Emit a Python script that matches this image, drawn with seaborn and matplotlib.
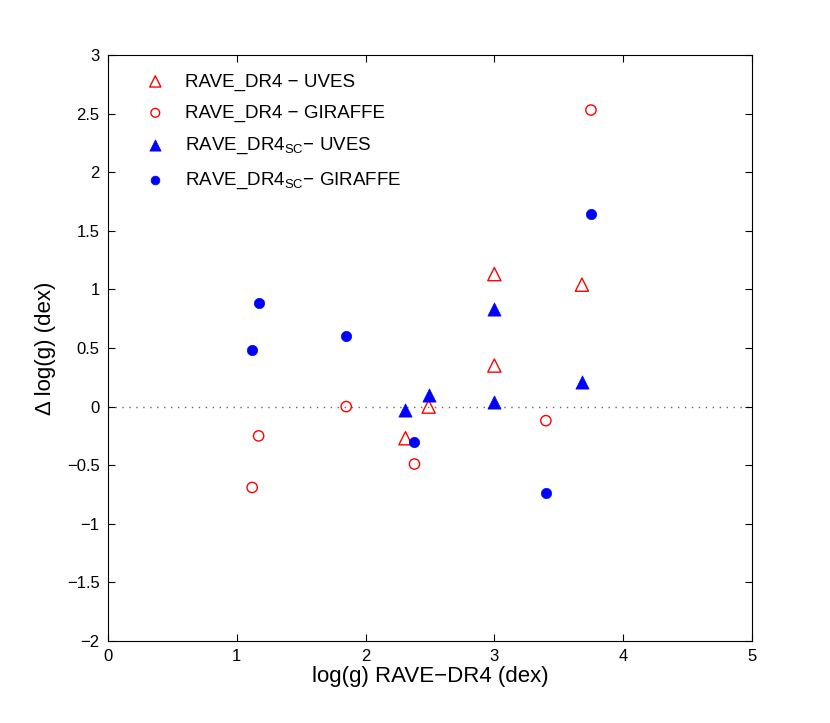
import matplotlib
matplotlib.use("Agg")
import matplotlib.pyplot as plt
import seaborn as sns

# ─── Data ─────────────────────────────────────────────────────────────────────
uves_x = [2.31, 2.49, 3.00, 3.00, 3.68]
uves_dr4 = [-0.27, 0.00, 1.13, 0.35, 1.04]
uves_sc = [-0.03, 0.10, 0.83, 0.04, 0.21]

giraffe_x = [1.12, 1.17, 1.85, 2.38, 3.40, 3.75]
giraffe_dr4 = [-0.69, -0.25, 0.00, -0.49, -0.12, 2.53]
giraffe_sc = [0.48, 0.88, 0.60, -0.30, -0.74, 1.64]

labels = [
    "RAVE_DR4 \u2212 UVES",
    "RAVE_DR4 \u2212 GIRAFFE",
    "RAVE_DR4$_{\\mathrm{SC}}$\u2212 UVES",
    "RAVE_DR4$_{\\mathrm{SC}}$\u2212 GIRAFFE",
]

sns.set_style("white")
plt.rcParams.update({
    "font.family": ["Liberation Sans", "DejaVu Sans"],
    "mathtext.fontset": "custom",
    "mathtext.rm": "Liberation Sans",
    "mathtext.it": "Liberation Sans",
    "font.size": 12,
    "text.color": "black",
    "axes.labelcolor": "black",
    "xtick.color": "black",
    "ytick.color": "black",
    "axes.edgecolor": "black",
    "axes.linewidth": 0.8,
    "xtick.direction": "in",
    "ytick.direction": "in",
    "xtick.top": True,
    "ytick.right": True,
    "xtick.bottom": True,
    "ytick.left": True,
    "xtick.major.size": 5,
    "ytick.major.size": 5,
})

fig = plt.figure(figsize=(8.3, 7.23), dpi=100)
ax = fig.add_axes([0.130, 0.1134, 0.776, 0.8106])

ax.axhline(0, color="#666666", ls=(0, (1, 4)), lw=1, zorder=0)

sns.scatterplot(x=uves_x, y=uves_dr4, marker="^", s=90, color="red",
                facecolor="none", edgecolor="red", linewidth=1.0,
                label=labels[0], ax=ax)
sns.scatterplot(x=giraffe_x, y=giraffe_dr4, marker="o", s=55, color="red",
                facecolor="none", edgecolor="red", linewidth=1.0,
                label=labels[1], ax=ax)
sns.scatterplot(x=uves_x, y=uves_sc, marker="^", s=90, color="blue",
                edgecolor="blue", linewidth=0.5, label=labels[2], ax=ax)
sns.scatterplot(x=giraffe_x, y=giraffe_sc, marker="o", s=55, color="blue",
                edgecolor="blue", linewidth=0.5, label=labels[3], ax=ax)

ax.set_xlim(0, 5)
ax.set_ylim(-2, 3)
ax.set_xticks([0, 1, 2, 3, 4, 5])
ax.set_yticks([-2, -1.5, -1, -0.5, 0, 0.5, 1, 1.5, 2, 2.5, 3])
ax.set_yticklabels(["\u22122", "\u22121.5", "\u22121", "\u22120.5", "0", "0.5",
                    "1", "1.5", "2", "2.5", "3"])
ax.tick_params(labelsize=12, pad=6)
ax.set_xlabel("log(g) RAVE\u2212DR4 (dex)", fontsize=16, labelpad=1)
ax.set_ylabel("\u0394 log(g) (dex)", fontsize=16, labelpad=8)

ax.legend(loc="upper left", bbox_to_anchor=(0.027, 0.988), frameon=False,
          fontsize=13.5, handletextpad=0.6, labelspacing=0.75, borderaxespad=0.2,
          markerscale=0.85)

fig.savefig("out.png", dpi=100)
